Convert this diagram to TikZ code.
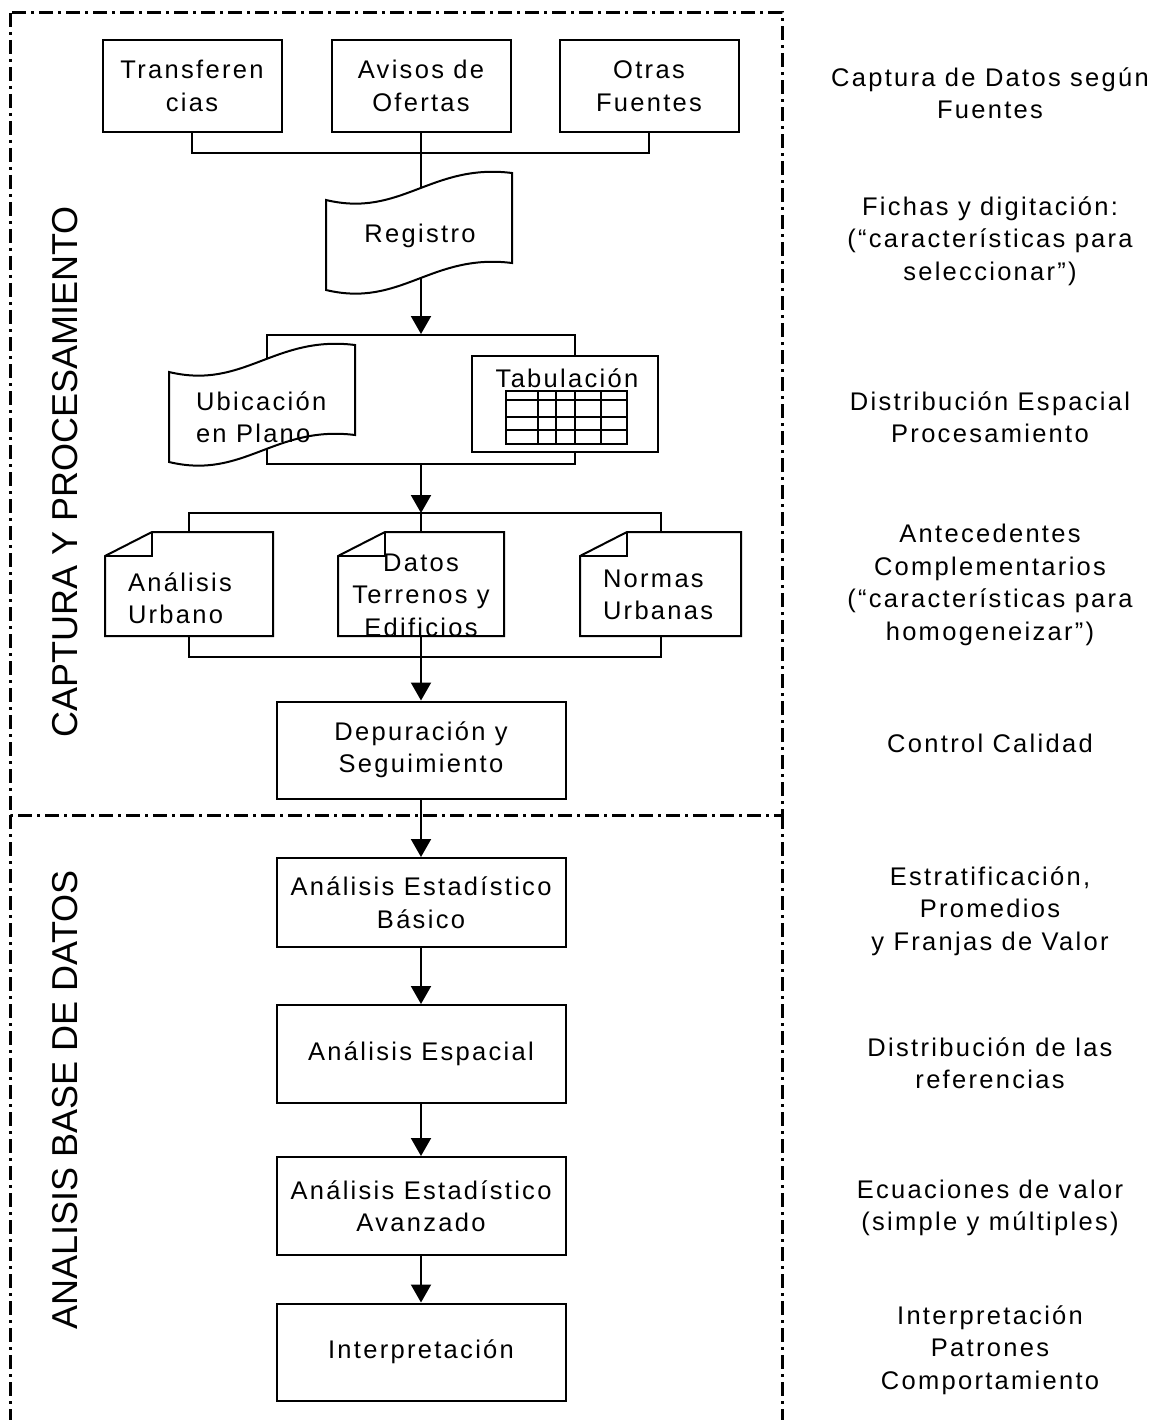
\documentclass[tikz,border=0pt]{standalone}
\usepackage{fontspec}
\setmainfont{Liberation Sans}[LetterSpace=9]
\newfontfamily\fuentelado{Liberation Sans}
\usetikzlibrary{arrows.meta}

\tikzset{
    cinta/.pic={
        \draw[fill=white] (0,27) .. controls (75,45) and (105,-10) .. (186,0)
            -- (186,90) .. controls (105,80) and (75,135) .. (0,117) -- cycle;
    }
}

\begin{document}
\begin{tikzpicture}[x=1pt, y=-1pt, line width=2pt,
    every node/.style={font=\fontsize{25.5}{32.5}\selectfont, align=center, inner sep=0pt},
    fuente/.style={draw, fill=white, minimum width=179pt, minimum height=92pt},
    caja/.style={draw, fill=white, minimum width=289pt, minimum height=97pt},
    nota/.style={minimum height=102pt},
    flecha/.style={-{Triangle[width=20pt,length=18pt]}},
    marco/.style={line width=3pt, dash pattern=on 14pt off 5pt on 3pt off 5pt},
    rotulo/.style={font=\fuentelado\fontsize{36}{40}\selectfont, rotate=90}
    ]
    \useasboundingbox (0,0) rectangle (1163,1420);

    \draw[marco] (10,13) rectangle (782,815);
    \draw[marco] (10,815) -- (10,1420) (782,815) -- (782,1420);

    \node[rotulo] (captura) at (65,472) {CAPTURA Y PROCESAMIENTO};
    \node[rotulo] (analisis) at (65,1100) {ANALISIS BASE DE DATOS};

    % fuentes
    \node[fuente] (transf) at (192,86) {Transferen\\cias};
    \node[fuente] (avisos) at (421,86) {Avisos de\\Ofertas};
    \node[fuente] (otras) at (649,86) {Otras\\Fuentes};

    \coordinate (bus1) at (421,153);
    \coordinate (regtop) at (421,188);
    \coordinate (regbot) at (421,278);
    \draw (transf.south) |- (bus1) (otras.south) |- (bus1);
    \draw (avisos.south) -- (bus1) -- (regtop);

    \node[draw, minimum width=308pt, minimum height=129pt] (grupo) at (421,399.5) {};
    \pic at (326,173) {cinta};
    \node (registro) at (420,236) {Registro};
    \draw[flecha] (regbot) -- (grupo.north);

    \pic at (169,345) {cinta};
    \node[draw, fill=white, minimum width=186pt, minimum height=96pt] (tabla) at (565,404) {};
    \draw (506,391) rectangle (627,444);
    \foreach \yy in {400,417,430} \draw (506,\yy) -- (627,\yy);
    \foreach \xx in {538,556,575,601} \draw (\xx,391) -- (\xx,444);
    \node (tab) at (567,378) {Tabulación};
    \node[anchor=west, align=left] (ubic) at (195,417) {Ubicación\\en Plano};

    % antecedentes
    \node[nota, minimum width=166pt] (urbano) at (189,584) {};
    \node[nota, minimum width=164pt] (datos) at (421,584) {};
    \node[nota, minimum width=159pt] (normas) at (660.5,584) {};
    \coordinate (bus2) at (421,513);
    \coordinate (bus3) at (421,657);
    \draw[flecha] (grupo.south) -- (bus2);
    \draw (urbano.north) |- (bus2) (normas.north) |- (bus2) (datos.north) -- (bus2);
    \draw (urbano.south) |- (bus3) (normas.south) |- (bus3) (datos.south) -- (bus3);
    \foreach \n in {urbano,datos,normas}{
        \draw[fill=white] ([yshift=-24pt]\n.north west) -- ([xshift=47pt]\n.north west)
            -- (\n.north east) -- (\n.south east) -- (\n.south west) -- cycle;
        \draw ([yshift=-24pt]\n.north west) -| ([xshift=47pt]\n.north west);
    }
    \node[anchor=west, align=left] (turbano) at (127,598) {Análisis\\Urbano};
    \node (tdatos) at (421,595) {Datos\\Terrenos y\\Edificios};
    \node[anchor=west, align=left] (tnormas) at (602,595) {Normas\\Urbanas};

    % analisis
    \node[caja] (depur) at (421,750) {Depuración y\\Seguimiento};
    \node[caja, minimum height=89pt] (basico) at (421,902.5) {Análisis Estadístico\\Básico};
    \node[caja, minimum height=98pt] (espacial) at (421,1054) {Análisis Espacial};
    \node[caja, minimum height=98pt] (avanz) at (421,1206) {Análisis Estadístico\\Avanzado};
    \node[caja] (interp) at (421,1352) {Interpretación};

    \draw[flecha] (bus3) -- (depur.north);
    \draw[flecha] (depur) -- (basico);
    \draw[flecha] (basico) -- (espacial);
    \draw[flecha] (espacial) -- (avanz);
    \draw[flecha] (avanz) -- (interp);

    % comentarios
    \node (c1) at (990,93) {Captura de Datos según\\Fuentes};
    \node (c2) at (990,241) {Fichas y digitación:\\(“características para\\seleccionar”)};
    \node (c3) at (990,417) {Distribución Espacial\\Procesamiento};
    \node (c4) at (990,585) {Antecedentes\\Complementarios\\(“características para\\homogeneizar”)};
    \node (c5) at (990,743) {Control Calidad};
    \node (c6) at (990,911) {Estratificación,\\Promedios\\y Franjas de Valor};
    \node (c7) at (990,1063) {Distribución de las\\referencias};
    \node (c8) at (990,1208) {Ecuaciones de valor\\(simple y múltiples)};
    \node (c9) at (990,1350) {Interpretación\\Patrones\\Comportamiento};
\end{tikzpicture}
\end{document}
